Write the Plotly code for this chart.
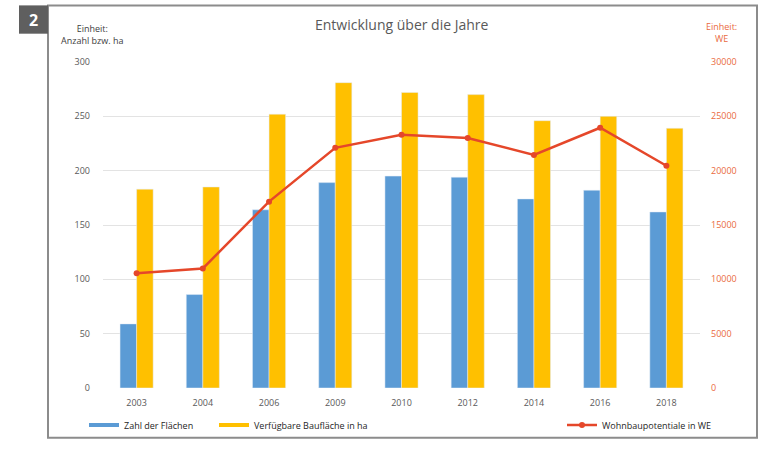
import plotly.graph_objects as go

years = ["2003", "2004", "2006", "2009", "2010", "2012", "2014", "2016", "2018"]
zahl_flaechen = [59, 86, 164, 189, 195, 194, 174, 182, 162]
bauflaeche_ha = [183, 185, 252, 281, 272, 270, 246, 250, 239]
wohnbau_we = [10550, 11000, 17150, 22100, 23300, 23000, 21450, 23950, 20450]

left_ticks = [0, 50, 100, 150, 200, 250, 300]
right_ticks = [0, 5000, 10000, 15000, 20000, 25000, 30000]
right_tick_text = [str(v) for v in right_ticks]

BLUE = "#5B9BD5"
YELLOW = "#FFC000"
RED = "#E5472A"
RED_TXT = "#EA6A3E"
GRAY_TXT = "#595959"
FONT = "Open Sans"

fig = go.Figure()
fig.add_trace(go.Bar(x=years, y=zahl_flaechen, name="Zahl der Flächen",
                     marker_color=BLUE, showlegend=False))
fig.add_trace(go.Bar(x=years, y=bauflaeche_ha, name="Verfügbare Baufläche in ha",
                     marker_color=YELLOW, showlegend=False))
fig.add_trace(go.Scatter(x=years, y=wohnbau_we, name="Wohnbaupotentiale in WE",
                         yaxis="y2", mode="lines+markers",
                         line=dict(color=RED, width=2.5),
                         marker=dict(color=RED, size=6), legend="legend3"))
# legend entries drawn as lines (as in reference)
fig.add_trace(go.Scatter(x=[None], y=[None], mode="lines", name="Zahl der Flächen",
                         line=dict(color=BLUE, width=4), legend="legend"))
fig.add_trace(go.Scatter(x=[None], y=[None], mode="lines", name="Verfügbare Baufläche in ha",
                         line=dict(color=YELLOW, width=4), legend="legend2"))

# plot area px: x 103..700, y 62..396
W, H = 763, 452
L, R, T, B = 103, 63, 62, 56
PW, PH = W - L - R, H - T - B


def px(x):
    return (x - L) / PW


def py(y):
    return (H - B - y) / PH


leg_common = dict(orientation="h", yanchor="middle", y=py(434), xanchor="left",
                  font=dict(family=FONT, size=9, color="#262626"),
                  bgcolor="rgba(0,0,0,0)", itemwidth=30)

fig.update_layout(
    width=W, height=H,
    margin=dict(l=L, r=R, t=T, b=B),
    paper_bgcolor="white", plot_bgcolor="white",
    barmode="group", bargap=0.5, bargroupgap=0,
    font=dict(family=FONT, color=GRAY_TXT),
    xaxis=dict(type="category", showgrid=False, showline=False, zeroline=False,
               ticks="", tickfont=dict(size=9, color=GRAY_TXT), ticklabelstandoff=8),
    yaxis=dict(range=[0, 300], tickvals=left_ticks, showgrid=True, gridcolor="#E3E3E3",
               gridwidth=1, zeroline=False, showline=False,
               tickfont=dict(size=9, color=GRAY_TXT), ticklabelstandoff=12),
    yaxis2=dict(range=[0, 30000], tickvals=right_ticks, ticktext=right_tick_text,
                overlaying="y", side="right",
                showgrid=False, zeroline=False, showline=False,
                tickfont=dict(size=9, color=RED_TXT), ticklabelstandoff=10),
    legend=dict(x=px(84), **leg_common),
    legend2=dict(x=px(214), **leg_common),
    legend3=dict(x=px(562), **leg_common),
    shapes=[
        dict(type="rect", xref="paper", yref="paper", x0=px(48), x1=px(757),
             y0=py(447), y1=py(4), line=dict(color="#8C8C8C", width=2),
             fillcolor="rgba(0,0,0,0)", layer="below"),
        dict(type="rect", xref="paper", yref="paper", x0=px(19), x1=px(48),
             y0=py(33), y1=py(4), line=dict(width=0), fillcolor="#5F5F5F"),
    ],
    annotations=[
        dict(text="<b>2</b>", xref="paper", yref="paper", x=px(33.5), y=py(18.5),
             showarrow=False, font=dict(family=FONT, size=16, color="white"),
             xanchor="center", yanchor="middle"),
        dict(text="Entwicklung über die Jahre", xref="paper", yref="paper",
             x=px(402), y=py(24), showarrow=False,
             font=dict(family=FONT, size=14, color=GRAY_TXT),
             xanchor="center", yanchor="middle"),
        dict(text="Einheit:<br>Anzahl bzw. ha", xref="paper", yref="paper",
             x=px(92), y=py(34), showarrow=False, align="center",
             font=dict(family=FONT, size=9, color="#404040"),
             xanchor="center", yanchor="middle"),
        dict(text="Einheit:<br>WE", xref="paper", yref="paper",
             x=px(721), y=py(32), showarrow=False, align="center",
             font=dict(family=FONT, size=9, color=RED_TXT),
             xanchor="center", yanchor="middle"),
    ],
)

fig.write_html("out.html")
